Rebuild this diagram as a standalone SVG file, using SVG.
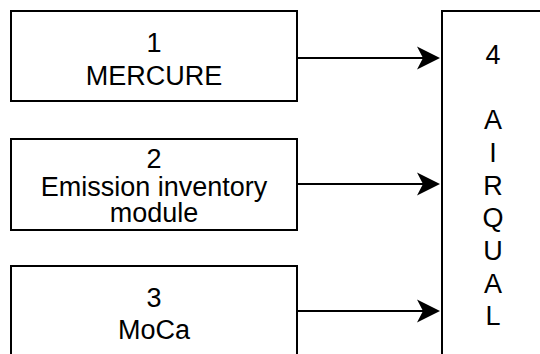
<svg xmlns="http://www.w3.org/2000/svg" width="540" height="354" viewBox="0 0 540 354">
<style>
.box{fill:#fff;stroke:#000;stroke-width:2}
.lbl{font-family:"Liberation Sans",Arial,Helvetica,sans-serif;font-size:27px;fill:#000;text-anchor:middle}
.conn{stroke:#000;stroke-width:2;fill:none}
</style>
<defs>
<marker id="arr" viewBox="0 0 23 24" markerWidth="23" markerHeight="24" markerUnits="userSpaceOnUse" refX="13" refY="12" orient="auto">
<path d="M0,0.5 L23,12 L0,23.5 L6,12 Z" fill="#000"/>
</marker>
</defs>
<rect width="540" height="354" fill="#fff"/>
<g id="node1">
<rect class="box" x="11" y="11" width="286" height="90"/>
<text class="lbl" x="154" y="51.5">1</text>
<text class="lbl" x="154" y="85">MERCURE</text>
</g>
<g id="node2">
<rect class="box" x="11" y="139" width="286" height="91"/>
<text class="lbl" x="154" y="168">2</text>
<text class="lbl" x="154" y="196">Emission inventory</text>
<text class="lbl" x="154" y="222">module</text>
</g>
<g id="node3">
<rect class="box" x="11" y="266" width="286" height="100"/>
<text class="lbl" x="154" y="306.5">3</text>
<text class="lbl" x="154" y="338.5">MoCa</text>
</g>
<g id="node4">
<rect class="box" x="442" y="11" width="110" height="360"/>
<text class="lbl" x="493" y="64">4</text>
<text class="lbl" x="493" y="129">A</text>
<text class="lbl" x="493" y="161.5">I</text>
<text class="lbl" x="493" y="194.5">R</text>
<text class="lbl" x="493" y="227">Q</text>
<text class="lbl" x="493" y="260">U</text>
<text class="lbl" x="493" y="292.5">A</text>
<text class="lbl" x="493" y="325">L</text>
</g>
<g id="connectors">
<line class="conn" x1="297" y1="58" x2="430" y2="58" marker-end="url(#arr)"/>
<line class="conn" x1="297" y1="184" x2="430" y2="184" marker-end="url(#arr)"/>
<line class="conn" x1="297" y1="311" x2="430" y2="311" marker-end="url(#arr)"/>
</g>
</svg>
